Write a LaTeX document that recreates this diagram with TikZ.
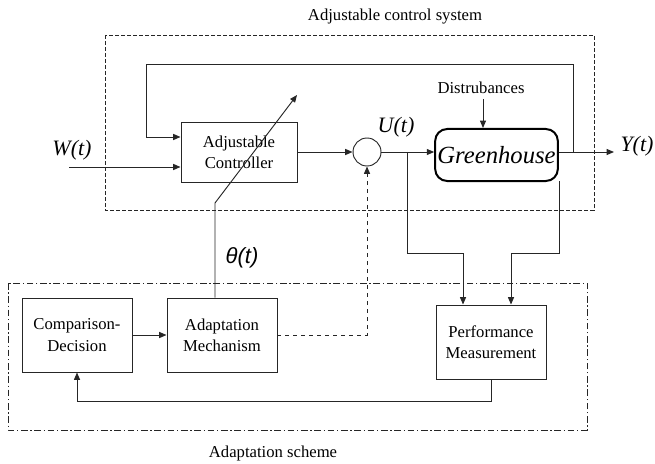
\documentclass[tikz,border=0pt]{standalone}
\usepackage{fontspec}
\setmainfont{Liberation Serif}
\newfontfamily\sigsans{Liberation Sans}
\usetikzlibrary{arrows.meta,positioning,calc}

\begin{document}
\begin{tikzpicture}[
  x=0.75pt, y=-0.75pt,
  font=\fontsize{12.5}{16}\selectfont,
  line width=0.7pt, black!85,
  box/.style={draw, align=center, inner sep=2pt,
    minimum width=82.5pt, minimum height=55.5pt, text=black},
  plant/.style={draw=black, rounded corners=9pt, line width=1.5pt,
    minimum width=92pt, minimum height=39pt, text=black, inner sep=1pt,
    font=\fontsize{18.5}{20}\selectfont\itshape},
  sumnode/.style={draw, circle, minimum size=21pt, inner sep=0pt},
  arr/.style={-{Triangle[length=5.5pt,width=4.5pt]}},
  sig/.style={text=black, font=\fontsize{16.5}{18}\selectfont\itshape},
  lbl/.style={text=black},
  dashframe/.style={draw, dash pattern=on 3pt off 1.5pt},
  dotframe/.style={draw, dash pattern=on 5pt off 2pt on 1pt off 2pt}
]
  \useasboundingbox (0,0) rectangle (655,463);

  % frames
  \draw[dashframe] (105,35) rectangle (594,210);
  \draw[dotframe] (8,283) rectangle (587,430);
  \node[lbl] (acs) at (395,17) {Adjustable control system};
  \node[lbl] (ascheme) at (273,453) {Adaptation scheme};

  % adjustable control system
  \node[box, minimum width=87pt, minimum height=45pt] (ctrl) at (239,152)
    {Adjustable\\Controller};
  \node[sumnode] (sum) at (367,152) {};
  \node[plant] (gh) at (496.5,155) {Greenhouse};
  \node[lbl] (dist) at (481,88) {Distrubances};

  % adaptation scheme
  \node[box] (cd) at (77,335) {Comparison-\\Decision};
  \node[box] (am) at (222,335) {Adaptation\\Mechanism};
  \node[box] (pm) at (491,342) {Performance\\Measurement};

  \coordinate (win) at (69,167);
  \coordinate (fbtop) at (146,64);
  \coordinate (utap) at (407,152);
  \coordinate (ytap) at (573,152);
  \coordinate (yout) at (614,152);
  \coordinate (tbend) at (215,203);
  \coordinate (ttip) at (297,95);
  \coordinate (ujoin) at (463,253);
  \coordinate (yjoin) at (511,253);
  \coordinate (ghtap) at (559,181);
  \coordinate (fbbot) at (77,401);

  \node[sig] (wlab) at (72,150) {W(t)};
  \node[sig] (ulab) at (396,127) {U(t)};
  \node[sig] (ylab) at (637,146) {Y(t)};
  \node[sig, font=\fontsize{16.5}{18}\sigsans\itshape] (thlab) at (242,258) {θ(t)};

  \draw[arr] (win) -- (win -| ctrl.west);
  \draw[arr] (ytap) |- (fbtop) |- ([yshift=11.25pt]ctrl.west);
  \draw[arr] (ctrl.east |- sum) -- (sum);
  \draw[arr] (sum) -- (gh.west |- sum);
  \draw[arr] (gh.east |- yout) -- (yout);
  \draw[arr] ([xshift=1.5pt]dist.south) -- ([xshift=1.5pt]dist.south |- gh.north);
  \draw[arr] (am.north -| tbend) -- (tbend) -- (ttip);
  \draw[arr, dashed] (am.east) -| (sum.south);
  \draw[arr] (utap) |- (ujoin) -- (ujoin |- pm.north);
  \draw[arr] (ghtap) |- (yjoin) -- (yjoin |- pm.north);
  \draw[arr] (cd) -- (am);
  \draw[arr] (pm.south) |- (fbbot) -- (cd.south);
\end{tikzpicture}
\end{document}
